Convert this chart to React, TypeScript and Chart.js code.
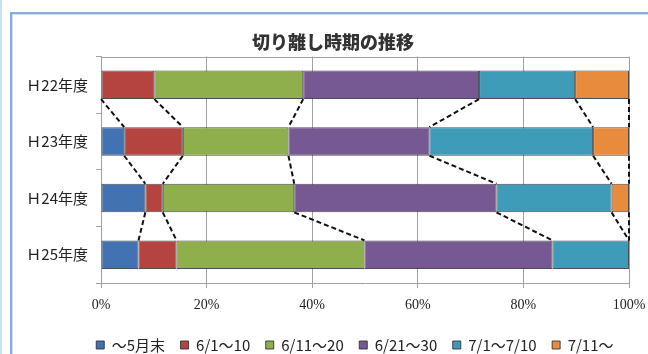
import React, { useEffect, useRef } from 'react';
import { Chart, registerables } from 'chart.js';

Chart.register(...registerables);

const titleText = '切り離し時期の推移';
const categories = ['Ｈ22年度', 'Ｈ23年度', 'Ｈ24年度', 'Ｈ25年度'];
const seriesNames = ['～5月末', '6/1～10', '6/11～20', '6/21～30', '7/1～7/10', '7/11～'];
const seriesColors = ['#4372b3', '#b5433f', '#8fae4c', '#765893', '#3f9cb9', '#e88b3c'];

const untilMayEnd = [0, 4.4, 8.4, 7.1];
const jun1to10 = [10.1, 11.1, 3.3, 7.2];
const jun11to20 = [28.2, 20.0, 24.9, 35.6];
const jun21to30 = [33.3, 26.7, 38.3, 35.6];
const jul1to10 = [18.2, 31.0, 21.8, 14.5];
const jul11on = [10.2, 6.8, 3.3, 0];

const seriesValues = [untilMayEnd, jun1to10, jun11to20, jun21to30, jul1to10, jul11on];
const xMin = 0;
const xMax = 100;
const xStep = 20;

const seriesLinesPlugin = {
  id: 'seriesLines',
  afterDatasetsDraw(chart: any) {
    const ctx = chart.ctx;
    ctx.save();
    ctx.strokeStyle = '#111';
    ctx.lineWidth = 2;
    ctx.setLineDash([5, 3]);
    chart.data.datasets.forEach((_ds: any, i: number) => {
      const meta = chart.getDatasetMeta(i);
      for (let r = 0; r < meta.data.length - 1; r++) {
        const a = meta.data[r].getProps(['x', 'y', 'height'], true);
        const b = meta.data[r + 1].getProps(['x', 'y', 'height'], true);
        ctx.beginPath();
        ctx.moveTo(a.x, a.y + a.height / 2);
        ctx.lineTo(b.x, b.y - b.height / 2);
        ctx.stroke();
      }
    });
    ctx.restore();
  },
};

const plotTopBorderPlugin = {
  id: 'plotTopBorder',
  beforeDatasetsDraw(chart: any) {
    const { ctx, chartArea } = chart;
    ctx.save();
    ctx.strokeStyle = '#a0a0a0';
    ctx.lineWidth = 1;
    ctx.beginPath();
    ctx.moveTo(chartArea.left, Math.round(chartArea.top) + 0.5);
    ctx.lineTo(chartArea.right, Math.round(chartArea.top) + 0.5);
    ctx.stroke();
    ctx.restore();
  },
};

export default function App() {
  const canvasRef = useRef<HTMLCanvasElement | null>(null);

  useEffect(() => {
    if (!canvasRef.current) return;
    const chart = new Chart(canvasRef.current, {
      type: 'bar',
      data: {
        labels: categories,
        datasets: seriesNames.map((name, i) => ({
          label: name,
          data: seriesValues[i],
          backgroundColor: seriesColors[i],
          borderColor: 'rgba(45,45,50,0.85)',
          borderWidth: 1,
          borderSkipped: false,
          categoryPercentage: 1,
          barPercentage: 0.505,
        })),
      },
      options: {
        indexAxis: 'y',
        responsive: false,
        animation: false,
        layout: { padding: { left: 0, right: 19, top: 56.5, bottom: -8.5 } },
        scales: {
          x: {
            stacked: true,
            min: xMin,
            max: xMax,
            ticks: {
              stepSize: xStep,
              padding: 9,
              color: '#222',
              font: { family: "'Liberation Serif', serif", size: 14 },
              callback: (v: any) => v + '%',
            },
            grid: { color: '#a0a0a0', tickLength: 5 },
            border: { color: '#a0a0a0' },
            afterFit: (s: any) => { s.height = 39; s.paddingRight = 0; s.paddingLeft = 0; },
          },
          y: {
            stacked: true,
            ticks: {
              padding: 8,
              color: '#222',
              font: { family: "'Noto Sans CJK JP', sans-serif", size: 15 },
            },
            grid: { drawOnChartArea: false, color: '#a0a0a0', tickLength: 5, offset: true },
            border: { color: '#a0a0a0' },
            afterFit: (s: any) => { s.width = 101; },
          },
        },
        plugins: {
          title: { display: false },
          legend: {
            position: 'bottom',
            align: 'end',
            labels: {
              boxWidth: 8,
              boxHeight: 8,
              padding: 15.5,
              color: '#222',
              font: { family: "'Noto Sans CJK JP', sans-serif", size: 15 },
            },
          },
          tooltip: { enabled: false },
        },
      },
      plugins: [plotTopBorderPlugin, seriesLinesPlugin],
    } as any);
    return () => chart.destroy();
  }, []);

  return (
    <div style={{ position: 'fixed', left: 0, top: 0, width: 648, height: 354, background: '#fff', overflow: 'hidden' }}>
      <div style={{ position: 'absolute', left: 0, top: 0, width: 2, height: 354, background: '#c4e4f1' }} />
      <div
        style={{
          position: 'absolute', left: 10, top: 12, width: 700, height: 400,
          borderLeft: '2px solid #86acdd', borderTop: '2px solid #86acdd',
          boxShadow: 'inset 1px 1px 0 #cfdef2',
        }}
      />
      <canvas ref={canvasRef} width={648} height={354} style={{ position: 'absolute', left: 0, top: 0, width: 648, height: 354 }} />
      <div
        style={{
          position: 'absolute', left: 0, top: 30, width: 666, textAlign: 'center',
          fontFamily: "'Noto Sans CJK JP', sans-serif", fontSize: 18, fontWeight: 900,
          lineHeight: '22px', color: '#333',
        }}
      >
        {titleText}
      </div>
    </div>
  );
}
